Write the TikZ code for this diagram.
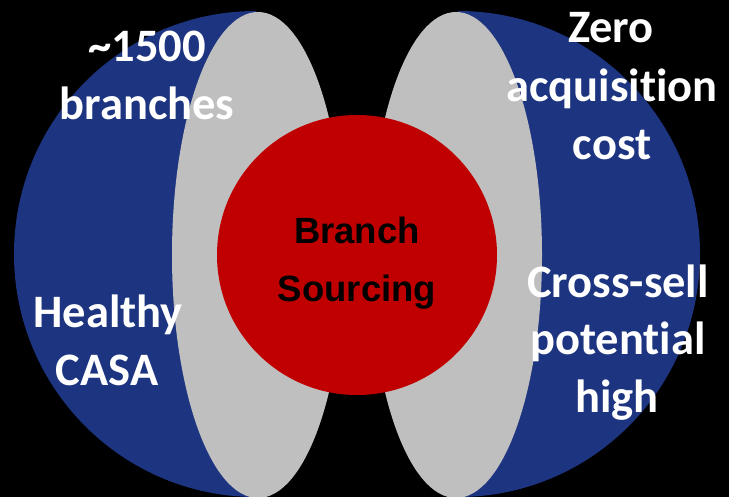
\documentclass[tikz,border=0pt]{standalone}
\usepackage{fontspec}
\setmainfont{Carlito}[Ligatures=NoCommon]
\newfontfamily\centrefont{Liberation Sans}
\definecolor{ringblue}{RGB}{29,52,128}
\definecolor{ringgray}{RGB}{191,191,191}
\definecolor{corered}{RGB}{192,0,0}
\begin{document}
\begin{tikzpicture}[x=1pt,y=-1pt,
  outerlabel/.style={text=white,font=\fontsize{46.5}{57.5}\selectfont\bfseries,anchor=base,inner sep=0pt},
  corelabel/.style={text=black,font=\centrefont\fontsize{36.5}{44}\selectfont\bfseries,anchor=base,inner sep=0pt}]
  % canvas
  \fill[black] (0,0) rectangle (729,497);
  \useasboundingbox (0,0) rectangle (729,497);

  % outer blue half-discs
  \fill[ringblue] (256,11) arc[start angle=90,end angle=270,x radius=242pt,y radius=243pt] -- cycle;
  \fill[ringblue] (458,11) arc[start angle=90,end angle=-90,x radius=242pt,y radius=243pt] -- cycle;

  % gray lenses
  \fill[ringgray] (258,255) ellipse[x radius=86pt,y radius=243pt];
  \fill[ringgray] (456,255) ellipse[x radius=86pt,y radius=243pt];

  % red core
  \fill[corered] (357,255) circle[radius=140pt];

  % labels, left side
  \node[outerlabel] (branchesA) at (147,62)  {\textasciitilde1500};
  \node[outerlabel] (branchesB) at (147,120) {branches};
  \node[outerlabel] (casaA)     at (108,328) {Healthy};
  \node[outerlabel] (casaB)     at (107,385) {CASA};

  % labels, right side
  \node[outerlabel] (costA) at (611,43)  {Zero};
  \node[outerlabel] (costB) at (612,102) {acquisition};
  \node[outerlabel] (costC) at (612,160) {cost};
  \node[outerlabel] (sellA) at (618,298) {Cross-sell};
  \node[outerlabel] (sellB) at (618,355) {potential};
  \node[outerlabel] (sellC) at (617,412) {high};

  % core label
  \node[corelabel] (coreA) at (357,244) {Branch};
  \node[corelabel] (coreB) at (357,302) {Sourcing};
\end{tikzpicture}
\end{document}
